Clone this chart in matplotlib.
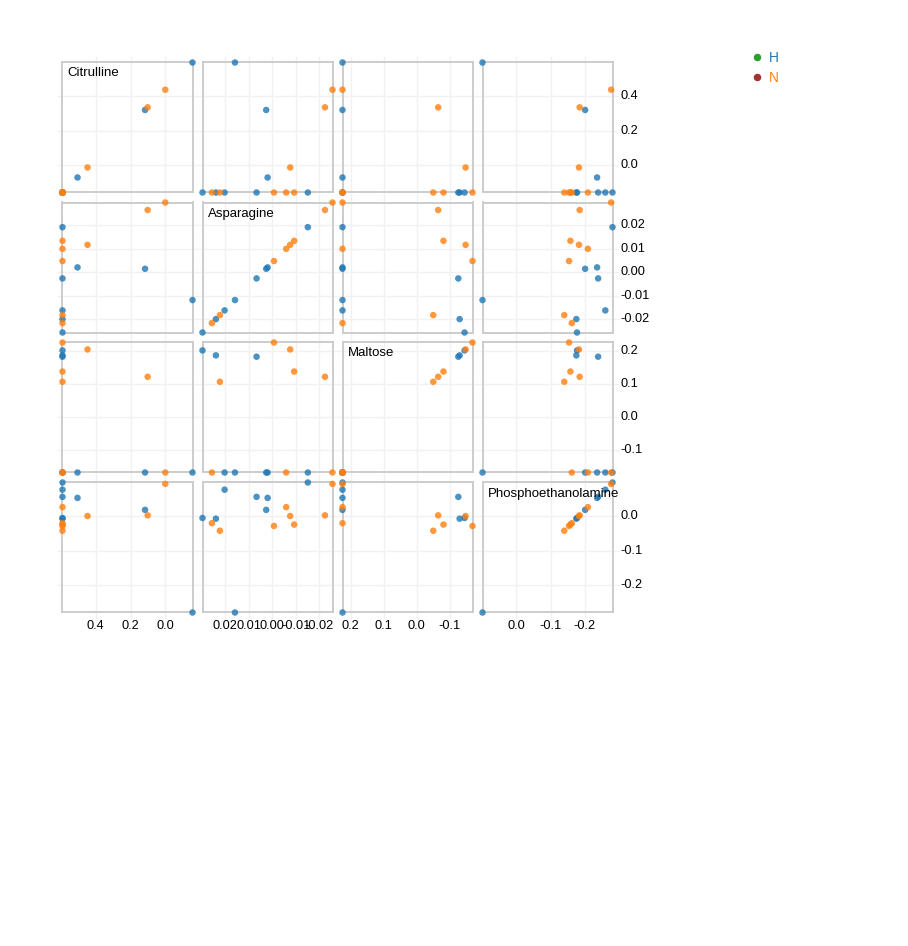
import numpy as np
import matplotlib.pyplot as plt
from matplotlib.lines import Line2D
from matplotlib.transforms import blended_transform_factory

plt.rcParams['font.family'] = ['Liberation Sans', 'DejaVu Sans']

# one entry per sample
group = ['H', 'N', 'H', 'N', 'H', 'H', 'H', 'H',
         'H', 'N', 'N', 'N', 'N', 'H', 'N', 'N']
citrulline = [-0.155, -0.155, -0.155, -0.155, -0.155, 0.590, -0.155, 0.318,
              -0.069, -0.155, -0.155, -0.0115, -0.155, -0.155, 0.333, 0.434]
asparagine = [-0.0257, -0.0217, -0.0200, -0.0183, -0.0163, -0.0119, -0.0027, 0.0014,
              0.0020, 0.0047, 0.0099, 0.0116, 0.0133, 0.0191, 0.0264, 0.0296]
maltose = [0.201, -0.169, 0.186, 0.106, -0.169, -0.169, 0.182, -0.169,
           -0.169, 0.225, -0.169, 0.204, 0.137, -0.169, 0.121, -0.169]
phospho = [-0.0047, -0.020, -0.0067, -0.042, 0.078, -0.281, 0.057, 0.019,
           0.054, -0.028, 0.027, 0.001, -0.024, 0.099, 0.003, 0.095]

names = ['Citrulline', 'Asparagine', 'Maltose', 'Phosphoethanolamine']
cit_ticks = [0.4, 0.2, 0.0]
asp_ticks = [0.02, 0.01, 0.0, -0.01, -0.02]
mal_ticks = [0.2, 0.1, 0.0, -0.1]
pho_ticks = [0.0, -0.1, -0.2]
cit_labels = ['0.4', '0.2', '0.0']
asp_labels = ['0.02', '0.01', '0.00', '-0.01', '-0.02']
mal_labels = ['0.2', '0.1', '0.0', '-0.1']
pho_labels = ['0.0', '-0.1', '-0.2']

legend_keys = ['H', 'N']
point_colors = {'H': '#1f77b4', 'N': '#ff7f0e'}
dot_colors = {'H': '#2ca02c', 'N': '#a33434'}

# draw the H samples first, N on top
order = sorted(range(len(group)), key=lambda k: legend_keys.index(group[k]))
values = [np.array(v)[order] for v in (citrulline, asparagine, maltose, phospho)]
ticks = [cit_ticks, asp_ticks, mal_ticks, pho_ticks]
tick_labels = [cit_labels, asp_labels, mal_labels, pho_labels]
cols = [point_colors[group[k]] for k in order]

W, H = 908, 946
fig = plt.figure(figsize=(W / 100, H / 100), dpi=100)

def fx(px):
    return px / W

def fy(py):
    return 1 - py / H

size, pad = 140, 10
x0, y0 = 57.5, 57.5
n = len(names)
grid_c = '#f1f1f1'
fs = 9.2

axes = [[None] * n for _ in range(n)]
for i in range(n):
    for j in range(n):
        left = x0 + size * j + pad / 2
        top = y0 + size * i + pad / 2
        ax = fig.add_axes([fx(left), fy(top + size - pad), (size - pad) / W, (size - pad) / H])
        ax.patch.set_visible(False)
        ax.set_xlim(values[j].min(), values[j].max())
        ax.set_ylim(values[i].min(), values[i].max())
        ax.set_xticks([])
        ax.set_yticks([])
        for sp in ax.spines.values():
            sp.set_color('#cccccc')
            sp.set_linewidth(1.4)
        ax.scatter(values[j], values[i], s=22, c=cols, alpha=0.8,
                   linewidths=0, clip_on=False, zorder=3)
        if i == j:
            ax.annotate(names[i], xy=(0, 1), xycoords='axes fraction',
                        xytext=(3.8, -3.6), textcoords='offset points',
                        ha='left', va='top', fontsize=fs + 0.3, color='black', zorder=4)
        axes[i][j] = ax

# x axis (mirrored, as in the reference) and vertical grid
for j in range(n):
    ax = axes[0][j]
    lo, hi = values[j].min(), values[j].max()
    tr = blended_transform_factory(ax.transData, fig.transFigure)
    for v, lab in zip(ticks[j], tick_labels[j]):
        p = lo + hi - v
        fig.add_artist(Line2D([p, p], [fy(x0 + size * n), fy(y0)], transform=tr,
                              color=grid_c, lw=1, zorder=-1))
        fig.text(p, fy(620), lab, transform=tr, ha='center', va='top',
                 fontsize=fs, color='black')

# y axis on the right and horizontal grid
for i in range(n):
    ax = axes[i][0]
    tr = blended_transform_factory(fig.transFigure, ax.transData)
    for v, lab in zip(ticks[i], tick_labels[i]):
        fig.add_artist(Line2D([fx(x0), fx(x0 + size * n)], [v, v], transform=tr,
                              color=grid_c, lw=1, zorder=-1))
        fig.text(fx(620.5), v, lab, transform=tr, ha='left', va='center',
                 fontsize=fs, color='black')

# legend
for k, key in enumerate(legend_keys):
    yy = 57.5 + 20 * k
    fig.add_artist(Line2D([fx(757)], [fy(yy)], marker='o', ms=4.4, lw=0,
                          color=dot_colors[key], transform=fig.transFigure))
    fig.text(fx(769), fy(yy), key, ha='left', va='center', fontsize=fs + 0.6,
             color=point_colors[key])

fig.savefig('out.png', dpi=100)
